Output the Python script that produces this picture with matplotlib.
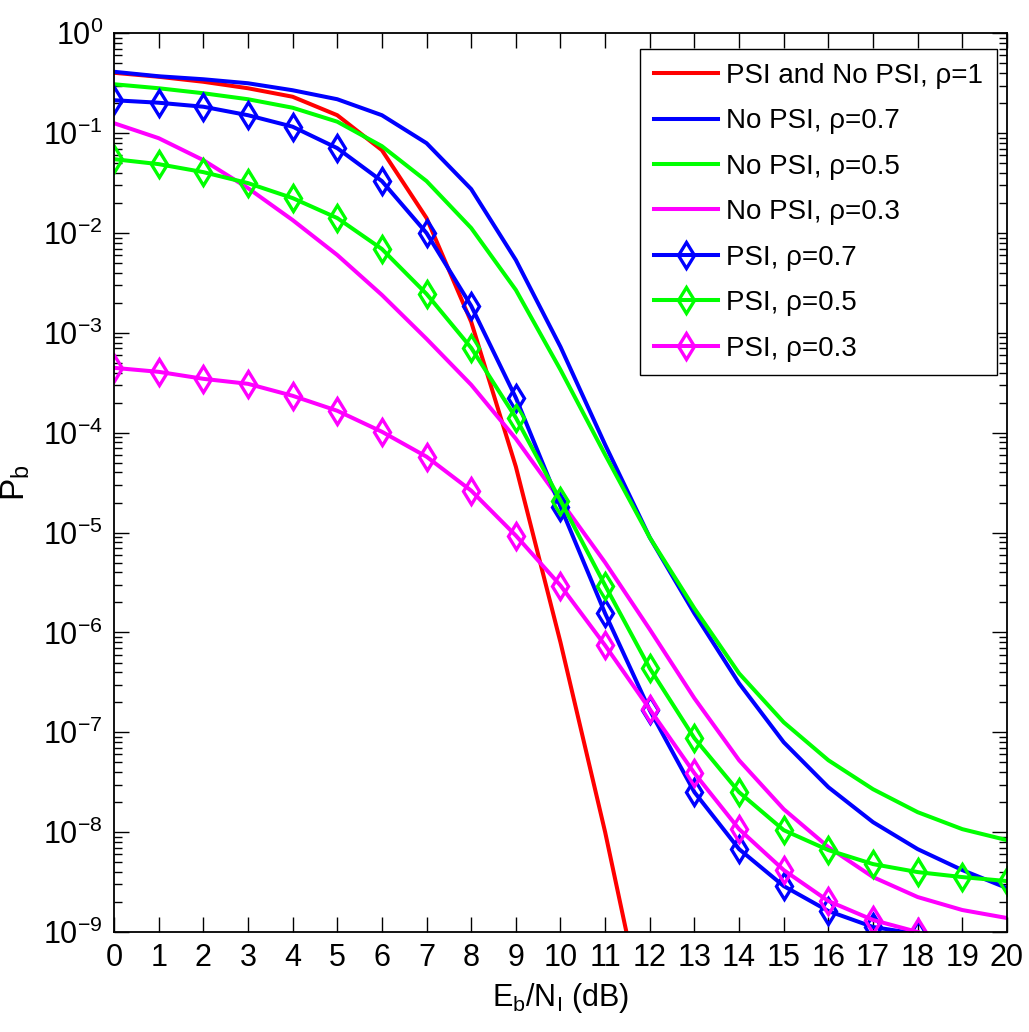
import numpy as np
import matplotlib
matplotlib.use("Agg")
import matplotlib.pyplot as plt
from matplotlib import font_manager
from matplotlib.ticker import LogLocator, NullFormatter, FixedLocator

# Eb/NI (dB)
snr = np.arange(0, 21)

# log10 of Pb
rho1 = [-0.395, -0.435, -0.485, -0.55, -0.635, -0.82, -1.17, -1.85, -2.89, -4.34,
        -6.1, -8.0, -10.1]
nopsi_07 = [-0.385, -0.43, -0.46, -0.50, -0.57, -0.66, -0.82, -1.10, -1.56, -2.27,
            -3.14, -4.12, -5.05, -5.81, -6.51, -7.10, -7.55, -7.90, -8.17, -8.38, -8.56]
nopsi_05 = [-0.51, -0.55, -0.60, -0.66, -0.745, -0.885, -1.13, -1.48, -1.95, -2.57,
            -3.37, -4.22, -5.05, -5.76, -6.41, -6.90, -7.28, -7.57, -7.80, -7.97, -8.08]
nopsi_03 = [-0.90, -1.05, -1.27, -1.55, -1.87, -2.22, -2.62, -3.06, -3.52, -4.06,
            -4.68, -5.30, -5.97, -6.66, -7.28, -7.77, -8.15, -8.45, -8.65, -8.78, -8.86]
psi_07 = [-0.67, -0.695, -0.735, -0.82, -0.935, -1.15, -1.48, -2.00, -2.73, -3.65,
          -4.74, -5.81, -6.78, -7.60, -8.17, -8.54, -8.79, -8.95, -9.02]
psi_05 = [-1.26, -1.31, -1.39, -1.50, -1.65, -1.85, -2.16, -2.61, -3.15, -3.85,
          -4.68, -5.53, -6.36, -7.06, -7.60, -7.98, -8.18, -8.32, -8.40, -8.45, -8.49]
psi_03 = [-3.35, -3.39, -3.46, -3.51, -3.63, -3.78, -3.99, -4.24, -4.58, -5.03,
          -5.53, -6.13, -6.77, -7.41, -7.97, -8.38, -8.69, -8.88, -9.00]

series = [
    ("PSI and No PSI, ρ=1", rho1, "#ff0000", None),
    ("No PSI, ρ=0.7", nopsi_07, "#0000ff", None),
    ("No PSI, ρ=0.5", nopsi_05, "#00ff00", None),
    ("No PSI, ρ=0.3", nopsi_03, "#ff00ff", None),
    ("PSI, ρ=0.7", psi_07, "#0000ff", "d"),
    ("PSI, ρ=0.5", psi_05, "#00ff00", "d"),
    ("PSI, ρ=0.3", psi_03, "#ff00ff", "d"),
]
decades = np.arange(-9, 1)

names = {f.name for f in font_manager.fontManager.ttflist}
main_font = "Liberation Sans Narrow" if "Liberation Sans Narrow" in names else "Liberation Sans"
plt.rcParams["font.family"] = [main_font, "DejaVu Sans"]
plt.rcParams["mathtext.fontset"] = "custom"
plt.rcParams["mathtext.rm"] = main_font
plt.rcParams["mathtext.it"] = main_font
plt.rcParams["axes.unicode_minus"] = False

fs = 22

fig = plt.figure(figsize=(10.29, 10.32), dpi=100)
ax = fig.add_axes([0.1108, 0.0969, 0.8678, 0.8708])

for label, vals, color, marker in series:
    y = 10.0 ** np.array(vals)
    x = snr[:len(vals)]
    if marker:
        ax.plot(x, y, color=color, lw=2.9, marker=marker, ms=13, mew=2.4,
                mfc="none", mec=color, label=label)
    else:
        ax.plot(x, y, color=color, lw=2.9, label=label)

ax.set_yscale("log")
ax.set_xlim(0, 20)
ax.set_ylim(1e-9, 1e0)
ax.xaxis.set_major_locator(FixedLocator(snr))
ax.yaxis.set_major_locator(FixedLocator(10.0 ** decades))
ax.yaxis.set_minor_locator(LogLocator(base=10, subs=np.arange(2, 10), numticks=20))
ax.yaxis.set_minor_formatter(NullFormatter())

ax.tick_params(which="both", direction="in", top=True, right=True, labelsize=fs,
               width=1.0, colors="black")
ax.tick_params(which="major", length=11, pad=8)
ax.tick_params(which="minor", length=6)
for sp in ax.spines.values():
    sp.set_linewidth(1.3)

ax.set_xlabel(r"E$_\mathrm{b}$/N$_\mathrm{I}$ (dB)", fontsize=fs, labelpad=6)
ax.set_ylabel(r"P$_\mathrm{b}$", fontsize=24, labelpad=8)

leg = ax.legend(loc="upper right", bbox_to_anchor=(0.9888, 0.9826), borderaxespad=0,
                fontsize=20, fancybox=False, framealpha=1, edgecolor="black",
                handlelength=2.3, handletextpad=0.3, labelspacing=0.7,
                borderpad=0.5)
leg.get_frame().set_linewidth(1.0)

fig.savefig("out.png", dpi=100)
